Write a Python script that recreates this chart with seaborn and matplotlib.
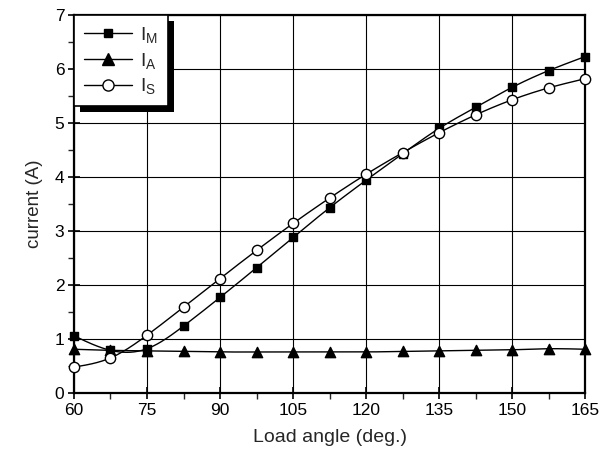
import numpy as np
import pandas as pd
import seaborn as sns
import matplotlib
matplotlib.use("Agg")
import matplotlib.pyplot as plt
from matplotlib.lines import Line2D
from matplotlib.patches import Rectangle
from matplotlib.transforms import IdentityTransform
from matplotlib.ticker import MultipleLocator

# ---- data ----
load_angle = [60, 67.5, 75, 82.5, 90, 97.5, 105, 112.5, 120, 127.5, 135, 142.5, 150, 157.5, 165]
I_M = [1.06, 0.79, 0.82, 1.24, 1.77, 2.32, 2.88, 3.43, 3.94, 4.43, 4.90, 5.29, 5.66, 5.97, 6.23]
I_A = [0.81, 0.79, 0.78, 0.77, 0.76, 0.76, 0.76, 0.76, 0.76, 0.77, 0.78, 0.79, 0.80, 0.82, 0.81]
I_S = [0.48, 0.65, 1.07, 1.59, 2.12, 2.64, 3.14, 3.61, 4.05, 4.45, 4.82, 5.15, 5.43, 5.65, 5.82]
series_names = ["M", "A", "S"]
x_ticks = [60, 75, 90, 105, 120, 135, 150, 165]
y_ticks = [0, 1, 2, 3, 4, 5, 6, 7]


def natural_spline(x, y, n=400):
    x = np.asarray(x, float)
    y = np.asarray(y, float)
    k = len(x)
    h = np.diff(x)
    A = np.zeros((k, k))
    b = np.zeros(k)
    A[0, 0] = A[-1, -1] = 1
    for i in range(1, k - 1):
        A[i, i - 1] = h[i - 1]
        A[i, i] = 2 * (h[i - 1] + h[i])
        A[i, i + 1] = h[i]
        b[i] = 6 * ((y[i + 1] - y[i]) / h[i] - (y[i] - y[i - 1]) / h[i - 1])
    M = np.linalg.solve(A, b)
    xs = np.linspace(x[0], x[-1], n)
    idx = np.clip(np.searchsorted(x, xs) - 1, 0, k - 2)
    x0, x1 = x[idx], x[idx + 1]
    hh = x1 - x0
    t0 = x1 - xs
    t1 = xs - x0
    ys = (M[idx] * t0 ** 3 + M[idx + 1] * t1 ** 3) / (6 * hh) \
        + (y[idx] / hh - M[idx] * hh / 6) * t0 \
        + (y[idx + 1] / hh - M[idx + 1] * hh / 6) * t1
    return xs, ys


sns.set_theme(style="white")
plt.rcParams["font.family"] = ["Liberation Sans", "DejaVu Sans"]
plt.rcParams["mathtext.fontset"] = "custom"
plt.rcParams["mathtext.rm"] = "Liberation Sans"
plt.rcParams["mathtext.it"] = "Liberation Sans"

fig = plt.figure(figsize=(6.14, 4.61), dpi=100)
ax = fig.add_axes([0.1205, 0.1475, 0.8325, 0.82])

styles = {
    "M": dict(marker="s", s=38, facecolor="black"),
    "A": dict(marker="^", s=55, facecolor="black"),
    "S": dict(marker="o", s=55, facecolor="white"),
}
data = {"M": I_M, "A": I_A, "S": I_S}

for name in series_names:
    xs, ys = natural_spline(load_angle, data[name])
    sns.lineplot(x=xs, y=ys, ax=ax, color="black", linewidth=1.0, zorder=3)
for name in series_names:
    st = styles[name]
    sns.scatterplot(x=load_angle, y=data[name], ax=ax, marker=st["marker"], s=st["s"],
                    color=st["facecolor"], edgecolor="black", linewidth=1.0, zorder=4, clip_on=False)

ax.set_xlim(60, 165)
ax.set_ylim(0, 7)
ax.set_xticks(x_ticks)
ax.set_yticks(y_ticks)
ax.xaxis.set_minor_locator(MultipleLocator(7.5))
ax.yaxis.set_minor_locator(MultipleLocator(0.5))
ax.grid(True, which="major", color="black", linewidth=0.8)
ax.set_axisbelow(True)
for sp in ax.spines.values():
    sp.set_color("black")
    sp.set_linewidth(1.6)
ax.tick_params(which="major", direction="inout", length=8, width=1.2, labelsize=12.5,
               colors="black", left=True, bottom=True, pad=3)
ax.tick_params(which="minor", direction="out", length=4, width=1.0, left=True, bottom=True)
ax.set_xlabel("Load angle (deg.)", fontsize=14, labelpad=8)
ax.set_ylabel("current (A)", fontsize=13.5, labelpad=8)

handles = [
    Line2D([], [], color="black", lw=1.0, marker="s", markersize=6, markerfacecolor="black"),
    Line2D([], [], color="black", lw=1.0, marker="^", markersize=8, markerfacecolor="black"),
    Line2D([], [], color="black", lw=1.0, marker="o", markersize=8, markerfacecolor="white"),
]
labels = [r"$\mathregular{I_{%s}}$" % n for n in series_names]
leg = ax.legend(handles, labels, loc="upper left", bbox_to_anchor=(0, 1), borderaxespad=0,
                fontsize=14, frameon=True, fancybox=False, framealpha=1, edgecolor="black",
                handlelength=2.5, handletextpad=0.4, labelspacing=0.3, borderpad=0.5)
leg.get_frame().set_linewidth(1.2)
leg.set_zorder(10)

fig.canvas.draw()
bb = leg.get_window_extent()
shadow = Rectangle((bb.x0 + 6, bb.y0 - 6), bb.width, bb.height, transform=IdentityTransform(),
                   facecolor="black", edgecolor="none", zorder=9, clip_on=False)
ax.add_patch(shadow)

fig.savefig("out.png", dpi=100)
